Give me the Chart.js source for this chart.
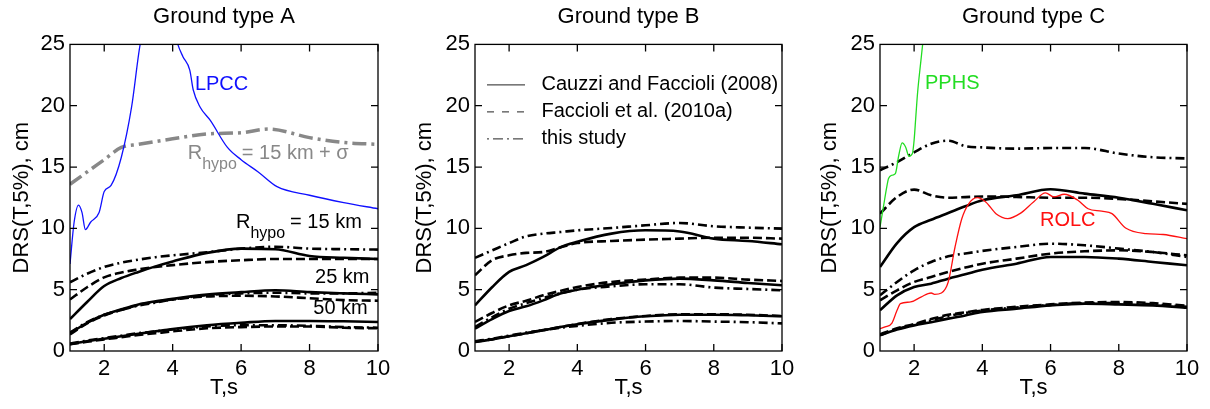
<!DOCTYPE html>
<html>
<head>
<meta charset="utf-8">
<script src="https://cdn.jsdelivr.net/npm/chart.js@4.4.1/dist/chart.umd.min.js"></script>
<style>
  html, body { margin: 0; padding: 0; background: #fff; overflow: hidden; }
  canvas { position: absolute; top: 0; }
</style>
</head>
<body>
<canvas id="chart_a" width="400" height="409" style="left:0px"></canvas>
<canvas id="chart_b" width="400" height="409" style="left:400px"></canvas>
<canvas id="chart_c" width="405" height="409" style="left:805px"></canvas>
<script>
// Periods (s) shared by the model curves
const period = [1, 1.5, 2, 2.5, 3, 3.5, 4, 5, 6, 7, 8, 9, 10];
const x_ticks = [2, 4, 6, 8, 10];
const y_ticks = [5, 10, 15, 20];

// Ground type A
const a_cauzzi_15 = [2.6, 4.0, 5.3, 5.95, 6.45, 6.9, 7.3, 8.0, 8.35, 8.3, 7.75, 7.6, 7.5];
const a_faccioli_15 = [4.2, 5.2, 6.0, 6.4, 6.65, 6.85, 7.0, 7.25, 7.4, 7.5, 7.5, 7.5, 7.5];
const a_study_15 = [5.6, 6.3, 6.85, 7.2, 7.45, 7.65, 7.8, 8.05, 8.35, 8.5, 8.35, 8.3, 8.27];
const a_cauzzi_25 = [1.45, 2.3, 2.95, 3.4, 3.8, 4.05, 4.25, 4.6, 4.8, 4.95, 4.8, 4.7, 4.62];
const a_faccioli_25 = [1.35, 2.25, 2.9, 3.35, 3.75, 4.0, 4.2, 4.45, 4.5, 4.45, 4.3, 4.15, 4.1];
const a_study_25 = [1.5, 2.35, 2.95, 3.35, 3.7, 3.95, 4.2, 4.55, 4.7, 4.75, 4.7, 4.7, 4.75];
const a_cauzzi_50 = [0.55, 0.8, 1.0, 1.2, 1.4, 1.6, 1.8, 2.1, 2.3, 2.45, 2.45, 2.42, 2.37];
const a_faccioli_50 = [0.55, 0.75, 0.95, 1.12, 1.3, 1.45, 1.6, 1.85, 1.95, 2.0, 2.0, 1.9, 1.85];
const a_study_50 = [0.6, 0.85, 1.05, 1.25, 1.45, 1.6, 1.75, 2.0, 2.1, 2.1, 2.05, 1.95, 1.9];
const a_sigma_t = [1, 1.5, 2, 2.5, 3, 4, 5, 6, 6.8, 8, 9, 10];
const a_sigma = [13.6, 14.6, 15.6, 16.6, 16.85, 17.3, 17.7, 17.8, 18.1, 17.4, 17.0, 16.85];
const lpcc_t = [1, 1.12, 1.25, 1.35, 1.45, 1.6, 1.85, 2.0, 2.2, 2.5, 2.8, 3.05, 3.6, 4.15, 4.3, 4.5, 4.6, 4.8, 5.1, 5.6, 6.0, 6.5, 7.05, 8, 9, 10];
const lpcc = [7.1, 10.5, 11.9, 11.3, 9.9, 10.5, 11.3, 13.0, 13.5, 15.8, 19.9, 25, 31, 25, 24.0, 22.9, 21.3, 19.9, 18.8, 16.6, 15.6, 14.6, 13.4, 12.7, 12.1, 11.6];

// Ground type B
const b_cauzzi_15 = [3.72, 5.2, 6.45, 7.0, 7.67, 8.45, 8.9, 9.57, 9.84, 9.75, 9.16, 8.97, 8.7];
const b_faccioli_15 = [6.17, 7.4, 7.8, 8.0, 8.07, 8.45, 8.8, 8.97, 9.08, 9.16, 9.24, 9.24, 9.16];
const b_study_15 = [7.6, 8.2, 8.8, 9.35, 9.57, 9.7, 9.84, 10.03, 10.25, 10.44, 10.17, 10.06, 9.98];
const b_cauzzi_25 = [1.82, 2.6, 3.26, 3.64, 4.13, 4.68, 5.0, 5.44, 5.76, 5.9, 5.76, 5.55, 5.36];
const b_faccioli_25 = [2.37, 3.1, 3.72, 4.1, 4.54, 4.9, 5.22, 5.63, 5.82, 5.98, 5.98, 5.82, 5.71];
const b_study_25 = [1.96, 2.75, 3.45, 3.9, 4.32, 4.7, 5.0, 5.27, 5.44, 5.44, 5.17, 5.06, 4.95];
const b_cauzzi_50 = [0.73, 0.95, 1.2, 1.45, 1.69, 1.95, 2.18, 2.56, 2.83, 2.96, 2.96, 2.91, 2.83];
const b_faccioli_50 = [0.75, 0.95, 1.2, 1.45, 1.7, 1.95, 2.2, 2.6, 2.85, 3.0, 3.0, 2.95, 2.85];
const b_study_50 = [0.8, 1.0, 1.25, 1.5, 1.7, 1.9, 2.05, 2.3, 2.4, 2.45, 2.4, 2.35, 2.25];

// Ground type C
const c_cauzzi_15 = [6.85, 8.8, 10.1, 10.7, 11.25, 11.8, 12.29, 12.7, 13.19, 12.83, 12.5, 12.0, 11.47];
const c_faccioli_15 = [11.2, 12.56, 13.16, 12.7, 12.5, 12.55, 12.6, 12.56, 12.5, 12.5, 12.4, 12.2, 12.0];
const c_study_15 = [14.74, 15.4, 16.2, 16.9, 17.15, 16.7, 16.6, 16.5, 16.55, 16.55, 16.1, 15.8, 15.7];
const c_cauzzi_25 = [3.32, 4.54, 5.22, 5.49, 5.9, 6.25, 6.63, 7.12, 7.67, 7.67, 7.53, 7.26, 6.99];
const c_faccioli_25 = [4.13, 4.95, 5.63, 6.04, 6.44, 6.8, 7.12, 7.53, 7.94, 8.13, 8.21, 8.07, 7.8];
const c_study_25 = [4.54, 5.63, 6.58, 7.26, 7.72, 7.95, 8.16, 8.48, 8.75, 8.62, 8.35, 8.07, 7.67];
const c_cauzzi_50 = [1.28, 1.75, 2.09, 2.35, 2.64, 2.9, 3.18, 3.45, 3.72, 3.86, 3.8, 3.72, 3.53];
const c_faccioli_50 = [1.35, 1.85, 2.2, 2.6, 2.95, 3.15, 3.35, 3.6, 3.8, 3.95, 4.0, 3.9, 3.7];
const c_study_50 = [1.3, 1.8, 2.15, 2.5, 2.85, 3.1, 3.3, 3.55, 3.75, 3.9, 3.9, 3.8, 3.6];
const pphs_t = [1, 1.1, 1.2, 1.25, 1.35, 1.45, 1.55, 1.65, 1.75, 1.85, 1.95, 2.0, 2.05, 2.1, 2.2, 2.25, 2.35];
const pphs = [10.1, 11.75, 13.4, 14.06, 14.33, 14.46, 15.96, 16.97, 16.64, 15.88, 16.1, 17.18, 19.1, 21.0, 23.7, 25, 28];
const rolc_t = [1, 1.15, 1.35, 1.5, 1.6, 1.9, 2.2, 2.5, 2.6, 2.8, 3.0, 3.2, 3.4, 3.6, 3.85, 4.1, 4.4, 4.75, 5.1, 5.5, 5.85, 6.1, 6.4, 6.8, 7.1, 7.5, 7.8, 8.2, 8.8, 9.3, 10];
const rolc = [1.82, 1.96, 2.28, 3.32, 3.86, 4.0, 4.4, 4.73, 4.62, 4.73, 5.63, 8.48, 10.8, 12.0, 12.5, 12.15, 11.2, 10.8, 11.2, 12.15, 12.9, 12.56, 12.78, 12.29, 11.6, 11.4, 11.2, 10.03, 9.57, 9.5, 9.16];

const legend_labels = ["Cauzzi and Faccioli (2008)", "Faccioli et al. (2010a)", "this study"];
const font_family = "'Liberation Sans', Arial, Helvetica, sans-serif";

// dash patterns for the three models
const dash_cauzzi = [];
const dash_faccioli = [9, 4];
const dash_study = [9, 4, 2, 4];

function toPoints(xs, ys) {
  return xs.map((x, i) => ({ x: x, y: ys[i] }));
}

function blackLine(ys, dash) {
  return {
    data: toPoints(period, ys),
    borderColor: "#000",
    borderWidth: 2.6,
    borderDash: dash,
    pointRadius: 0,
    cubicInterpolationMode: "monotone",
  };
}

function thinLine(xs, ys, color) {
  return {
    data: toPoints(xs, ys),
    borderColor: color,
    borderWidth: 1.3,
    pointRadius: 0,
    cubicInterpolationMode: "monotone",
  };
}

// box round the plot with inward ticks on all sides
const frame_plugin = {
  id: "frame",
  afterDraw(chart) {
    const { ctx, chartArea: a, scales } = chart;
    const tick_len = 7;
    ctx.save();
    ctx.strokeStyle = "#000";
    ctx.lineWidth = 1.3;
    ctx.strokeRect(a.left, a.top, a.right - a.left, a.bottom - a.top);
    ctx.beginPath();
    x_ticks.forEach((v) => {
      const px = scales.x.getPixelForValue(v);
      ctx.moveTo(px, a.bottom);
      ctx.lineTo(px, a.bottom - tick_len);
      ctx.moveTo(px, a.top);
      ctx.lineTo(px, a.top + tick_len);
    });
    y_ticks.forEach((v) => {
      const py = scales.y.getPixelForValue(v);
      ctx.moveTo(a.left, py);
      ctx.lineTo(a.left + tick_len, py);
      ctx.moveTo(a.right, py);
      ctx.lineTo(a.right - tick_len, py);
    });
    ctx.stroke();
    ctx.restore();
  },
};

// curve labels and the legend
const notes_plugin = {
  id: "notes",
  afterDatasetsDraw(chart, args, opts) {
    const { ctx, scales, chartArea: a } = chart;
    ctx.save();
    ctx.textBaseline = "middle";
    (opts.items || []).forEach((item) => {
      let px = scales.x.getPixelForValue(item.x);
      const py = scales.y.getPixelForValue(item.y);
      ctx.fillStyle = item.color;
      ctx.font = "20px " + font_family;
      if (item.sub) {
        ctx.fillText("R", px, py);
        px += ctx.measureText("R").width;
        ctx.font = "16px " + font_family;
        ctx.fillText(item.sub, px, py + 11);
        px += ctx.measureText(item.sub).width + 5;
        ctx.font = "20px " + font_family;
      }
      ctx.fillText(item.text, px, py);
    });
    if (opts.legend) {
      const dashes = [[], [7, 8], [2, 4, 10, 4]];
      legend_labels.forEach((label, i) => {
        const py = a.top + 40.5 + i * 27;
        ctx.strokeStyle = "#222";
        ctx.lineWidth = 1;
        ctx.setLineDash(dashes[i]);
        ctx.beginPath();
        ctx.moveTo(a.left + 12, py);
        ctx.lineTo(a.left + 50, py);
        ctx.stroke();
        ctx.setLineDash([]);
        ctx.fillStyle = "#000";
        ctx.font = "20px " + font_family;
        ctx.fillText(label, a.left + 66.5, py);
      });
    }
    ctx.restore();
  },
};

function makeChart(canvas_id, title, datasets, y_width, right_pad, y_title_pad, notes) {
  const ctx = document.getElementById(canvas_id).getContext("2d");
  return new Chart(ctx, {
    type: "line",
    data: { datasets: datasets },
    options: {
      responsive: false,
      animation: false,
      layout: { padding: { left: 0, right: right_pad, top: 0, bottom: 0 } },
      plugins: {
        legend: { display: false },
        tooltip: { enabled: false },
        title: {
          display: true,
          text: title,
          fullSize: false,
          color: "#000",
          font: { family: font_family, size: 22, weight: "normal" },
          padding: { top: 4, bottom: 14 },
        },
        notes: notes,
      },
      scales: {
        x: {
          type: "linear",
          min: 1,
          max: 10,
          afterBuildTicks: (scale) => {
            scale.ticks = x_ticks.map((v) => ({ value: v }));
          },
          afterFit: (scale) => {
            scale.height = 58;
          },
          grid: { display: false, drawTicks: false },
          border: { display: false },
          ticks: { color: "#000", padding: 5, maxRotation: 0, font: { family: font_family, size: 22 } },
          title: {
            display: true,
            text: "T,s",
            color: "#000",
            font: { family: font_family, size: 22 },
            padding: { top: 0, bottom: 8 },
          },
        },
        y: {
          min: 0,
          max: 25,
          ticks: { stepSize: 5, color: "#000", padding: 5, font: { family: font_family, size: 22 } },
          afterFit: (scale) => {
            scale.width = y_width;
          },
          grid: { display: false, drawTicks: false },
          border: { display: false },
          title: {
            display: true,
            text: "DRS(T,5%), cm",
            color: "#000",
            font: { family: font_family, size: 22 },
            padding: { top: y_title_pad, bottom: 0 },
          },
        },
      },
    },
    plugins: [frame_plugin, notes_plugin],
  });
}

// Panel A
makeChart(
  "chart_a",
  "Ground type A",
  [
    blackLine(a_cauzzi_15, dash_cauzzi),
    blackLine(a_faccioli_15, dash_faccioli),
    blackLine(a_study_15, dash_study),
    blackLine(a_cauzzi_25, dash_cauzzi),
    blackLine(a_faccioli_25, dash_faccioli),
    blackLine(a_study_25, dash_study),
    blackLine(a_cauzzi_50, dash_cauzzi),
    blackLine(a_faccioli_50, dash_faccioli),
    blackLine(a_study_50, dash_study),
    thinLine(lpcc_t, lpcc, "#1010ff"),
    {
      data: toPoints(a_sigma_t, a_sigma),
      borderColor: "#888888",
      borderWidth: 3.5,
      borderDash: [14, 5, 3, 5],
      pointRadius: 0,
      cubicInterpolationMode: "monotone",
    },
  ],
  70, 22, 9,
  {
    items: [
      { x: 4.65, y: 21.7, text: "LPCC", color: "#1010ff" },
      { x: 4.44, y: 16.1, sub: "hypo", text: "= 15 km + \u03c3", color: "#888888" },
      { x: 5.85, y: 10.5, sub: "hypo", text: "= 15 km", color: "#000" },
      { x: 8.16, y: 6.0, text: "25 km", color: "#000" },
      { x: 8.11, y: 3.45, text: "50 km", color: "#000" },
    ],
  }
);

// Panel B
makeChart(
  "chart_b",
  "Ground type B",
  [
    blackLine(b_cauzzi_15, dash_cauzzi),
    blackLine(b_faccioli_15, dash_faccioli),
    blackLine(b_study_15, dash_study),
    blackLine(b_cauzzi_25, dash_cauzzi),
    blackLine(b_faccioli_25, dash_faccioli),
    blackLine(b_study_25, dash_study),
    blackLine(b_cauzzi_50, dash_cauzzi),
    blackLine(b_faccioli_50, dash_faccioli),
    blackLine(b_study_50, dash_study),
  ],
  75, 18, 12,
  { legend: true }
);

// Panel C
makeChart(
  "chart_c",
  "Ground type C",
  [
    thinLine(rolc_t, rolc, "#ff1010"),
    thinLine(pphs_t, pphs, "#22dd22"),
    blackLine(c_cauzzi_15, dash_cauzzi),
    blackLine(c_faccioli_15, dash_faccioli),
    blackLine(c_study_15, dash_study),
    blackLine(c_cauzzi_25, dash_cauzzi),
    blackLine(c_faccioli_25, dash_faccioli),
    blackLine(c_study_25, dash_study),
    blackLine(c_cauzzi_50, dash_cauzzi),
    blackLine(c_faccioli_50, dash_faccioli),
    blackLine(c_study_50, dash_study),
  ],
  75, 23, 12,
  {
    items: [
      { x: 2.32, y: 21.8, text: "PPHS", color: "#22dd22" },
      { x: 5.69, y: 10.65, text: "ROLC", color: "#ff1010" },
    ],
  }
);
</script>
</body>
</html>
